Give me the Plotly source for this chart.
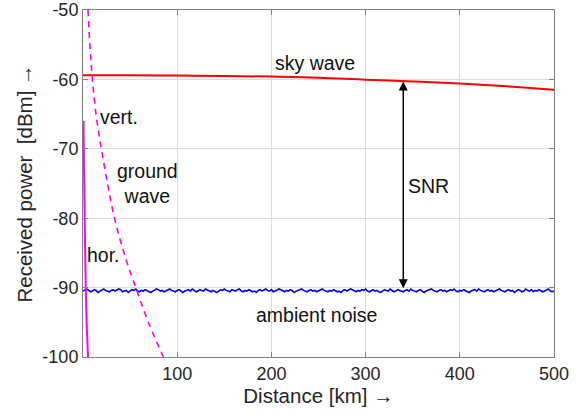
import plotly.graph_objects as go

# ---- data ----
sky_x = [0, 50, 100, 150, 200, 250, 300, 350, 400, 450, 500]
sky_y = [-59.4, -59.4, -59.45, -59.5, -59.6, -59.75, -60.05, -60.3, -60.6, -61.0, -61.5]

vert_x = [5.3, 7.5, 10, 14, 19.5, 26, 33.5, 44, 56, 70, 85.4]
vert_y = [-50, -55.5, -60, -65.2, -70, -75, -80, -85.2, -90, -95.2, -100]

hor_x = [0.5, 1.0, 1.8, 2.9, 4.0, 5.3]
hor_y = [-66, -72, -80, -90, -95.5, -100]

noise_x = [i * 2 for i in range(251)]
noise_y = [
    -90.5, -90.4, -90.2, -90.4, -90.6, -90.5, -90.3, -90.4, -90.7, -90.5,
    -90.3, -90.2, -90.4, -90.5, -90.6, -90.4, -90.3, -90.5, -90.4, -90.2,
    -90.3, -90.6, -90.5, -90.4, -90.7, -90.5, -90.3, -90.4, -90.2, -90.5,
    -90.6, -90.4, -90.5, -90.3, -90.4, -90.6, -90.7, -90.5, -90.4, -90.2,
    -90.3, -90.5, -90.4, -90.6, -90.5, -90.3, -90.2, -90.4, -90.5, -90.6,
    -90.4, -90.3, -90.5, -90.7, -90.5, -90.4, -90.3, -90.5, -90.2, -90.4,
    -90.6, -90.5, -90.3, -90.4, -90.5, -90.2, -90.3, -90.5, -90.6, -90.4,
    -90.5, -90.7, -90.5, -90.3, -90.4, -90.2, -90.4, -90.5, -90.6, -90.3,
    -90.4, -90.5, -90.3, -90.2, -90.5, -90.6, -90.4, -90.5, -90.3, -90.4,
    -90.6, -90.5, -90.7, -90.4, -90.3, -90.5, -90.4, -90.2, -90.4, -90.5,
    -90.3, -90.6, -90.5, -90.4, -90.2, -90.3, -90.5, -90.6, -90.4, -90.5,
    -90.3, -90.4, -90.7, -90.5, -90.4, -90.3, -90.2, -90.4, -90.5, -90.6,
    -90.4, -90.3, -90.5, -90.4, -90.6, -90.5, -90.3, -90.2, -90.4, -90.5,
    -90.6, -90.4, -90.5, -90.3, -90.4, -90.6, -90.5, -90.7, -90.4, -90.3,
    -90.5, -90.4, -90.2, -90.3, -90.5, -90.6, -90.4, -90.5, -90.3, -90.4,
    -90.2, -90.5, -90.6, -90.4, -90.3, -90.5, -90.4, -90.6, -90.7, -90.5,
    -90.3, -90.4, -90.5, -90.2, -90.4, -90.6, -90.5, -90.3, -90.4, -90.5,
    -90.6, -90.4, -90.3, -90.5, -90.2, -90.4, -90.5, -90.6, -90.4, -90.3,
    -90.5, -90.7, -90.5, -90.4, -90.3, -90.2, -90.4, -90.5, -90.6, -90.4,
    -90.3, -90.5, -90.4, -90.6, -90.5, -90.3, -90.4, -90.2, -90.5, -90.6,
    -90.4, -90.5, -90.3, -90.4, -90.6, -90.7, -90.5, -90.4, -90.3, -90.5,
    -90.2, -90.4, -90.5, -90.6, -90.4, -90.3, -90.5, -90.4, -90.6, -90.5,
    -90.3, -90.2, -90.4, -90.5, -90.6, -90.4, -90.3, -90.5, -90.4, -90.7,
    -90.5, -90.3, -90.4, -90.6, -90.5, -90.2, -90.4, -90.5, -90.3, -90.6,
    -90.4, -90.5, -90.3, -90.4, -90.6, -90.5, -90.4, -90.2, -90.5, -90.6,
    -90.5,
]

snr_x = 340
snr_top = -60.3
snr_bottom = -90.3

x_ticks = [100, 200, 300, 400, 500]
y_ticks = [-100, -90, -80, -70, -60, -50]
y_tick_text = ["-100", "-90", "-80", "-70", "-60", "-50"]

labels = [
    ("sky wave", 246, -57.6),
    ("vert.", 38, -65.4),
    ("ground<br>wave", 68, -75.0),
    ("hor.", 21.5, -85.3),
    ("SNR", 367, -75.3),
    ("ambient noise", 248, -93.9),
]

FONT = "Liberation Sans, Arial, sans-serif"

fig = go.Figure()
fig.add_trace(go.Scatter(x=noise_x, y=noise_y, mode="lines",
                         line=dict(color="#0000ff", width=1.6), showlegend=False))
fig.add_trace(go.Scatter(x=sky_x, y=sky_y, mode="lines", line_shape="spline",
                         line=dict(color="#ff0000", width=2), showlegend=False))
fig.add_trace(go.Scatter(x=vert_x, y=vert_y, mode="lines", line_shape="spline",
                         line=dict(color="#ff00ff", width=1.6, dash="6px,5px"), showlegend=False))
fig.add_trace(go.Scatter(x=hor_x, y=hor_y, mode="lines", line_shape="spline",
                         line=dict(color="#ff00ff", width=2), showlegend=False))

for txt, lx, ly in labels:
    fig.add_annotation(x=lx, y=ly, text=txt, showarrow=False,
                       font=dict(family=FONT, size=19.5, color="#111111"))

fig.add_annotation(x=snr_x, y=snr_top, ax=snr_x, ay=snr_bottom,
                   xref="x", yref="y", axref="x", ayref="y",
                   showarrow=True, arrowhead=2, arrowside="end+start",
                   arrowsize=1.2, arrowwidth=1.5, arrowcolor="#000000", text="")

axis_common = dict(
    showline=True, linecolor="#808080", linewidth=1, mirror="ticks",
    ticks="inside", ticklen=5, tickcolor="#808080",
    showgrid=True, gridcolor="#dcdcdc", gridwidth=1,
    zeroline=False, automargin=False,
    tickfont=dict(family=FONT, size=18, color="#262626"),
)

fig.update_xaxes(range=[0, 500], tickvals=x_ticks, **axis_common,
                 title=dict(text="Distance [km] \u2192",
                            font=dict(family=FONT, size=20.5, color="#262626"),
                            standoff=4))
fig.update_yaxes(range=[-100, -50], tickvals=y_ticks, ticktext=y_tick_text, **axis_common,
                 title=dict(text="Received power\u00a0\u00a0[dBm] \u2192",
                            font=dict(family=FONT, size=20.5, color="#262626"),
                            standoff=4))

fig.update_layout(
    width=582, height=418,
    margin=dict(l=83, r=28, t=10, b=61),
    plot_bgcolor="white", paper_bgcolor="white",
)

fig.write_html("out.html")
